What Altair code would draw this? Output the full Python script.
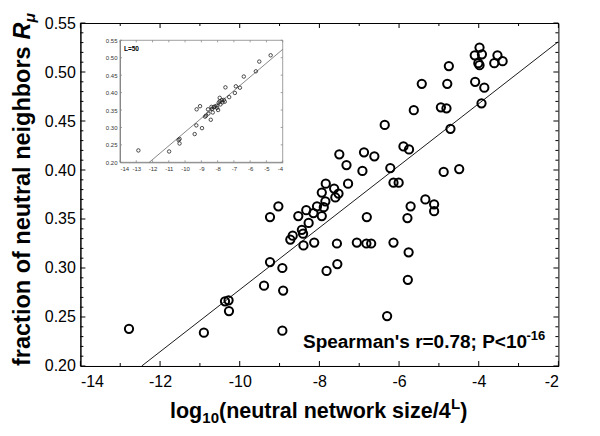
import altair as alt
import pandas as pd

# ---------------- data ----------------
MAIN_X = [-12.78, -10.90, -10.37, -10.28, -10.27, -9.39, -9.24, -8.93, -8.91, -8.93,
          -9.24, -9.03, -8.73, -8.67, -8.53, -8.44, -8.41, -8.40, -8.33, -8.27,
          -8.15, -8.13, -8.06, -7.94, -7.94, -7.89, -7.85, -7.84, -7.82, -7.63,
          -7.60, -7.56, -7.55, -7.52, -7.50, -7.32, -7.28, -7.06, -6.92, -6.88,
          -6.82, -6.81, -6.70, -6.62, -6.36, -6.30, -6.22, -6.14, -6.14, -6.01,
          -5.89, -5.79, -5.78, -5.76, -5.75, -5.71, -5.63, -5.43, -5.34, -5.12,
          -5.12, -4.95, -4.88, -4.81, -4.79, -4.75, -4.71, -4.49, -4.09, -4.10,
          -4.01, -3.98, -3.98, -3.92, -3.93, -3.86, -3.61, -3.53, -3.40]
MAIN_Y = [0.238, 0.234, 0.266, 0.267, 0.256, 0.282, 0.306, 0.300, 0.277, 0.236,
          0.352, 0.363, 0.329, 0.333, 0.353, 0.339, 0.335, 0.323, 0.359, 0.346,
          0.356, 0.326, 0.363, 0.353, 0.377, 0.362, 0.368, 0.386, 0.297, 0.381,
          0.372, 0.325, 0.304, 0.376, 0.416, 0.405, 0.386, 0.326, 0.399, 0.418,
          0.325, 0.352, 0.325, 0.414, 0.446, 0.251, 0.402, 0.387, 0.326, 0.387,
          0.424, 0.351, 0.288, 0.316, 0.421, 0.363, 0.461, 0.488, 0.370, 0.365,
          0.358, 0.464, 0.398, 0.463, 0.488, 0.506, 0.442, 0.401, 0.490, 0.517,
          0.509, 0.507, 0.525, 0.518, 0.468, 0.484, 0.509, 0.517, 0.511]

INSET_X = [-12.87, -10.98, -10.40, -10.34, -10.34, -9.41, -9.31, -8.96, -9.29, -9.08,
           -8.42, -8.77, -8.71, -8.57, -8.59, -8.38, -8.34, -8.30, -8.24, -8.18,
           -8.07, -8.03, -7.97, -7.93, -7.87, -7.83, -7.74, -7.70, -7.62, -7.56,
           -7.87, -7.29, -7.52, -6.94, -6.88, -6.63, -6.39, -5.65, -5.44, -4.74]
INSET_Y = [0.234, 0.231, 0.264, 0.267, 0.254, 0.281, 0.306, 0.298, 0.352, 0.361,
           0.322, 0.331, 0.334, 0.340, 0.352, 0.359, 0.353, 0.343, 0.358, 0.360,
           0.362, 0.356, 0.350, 0.371, 0.375, 0.366, 0.378, 0.372, 0.379, 0.374,
           0.385, 0.387, 0.415, 0.399, 0.418, 0.414, 0.446, 0.461, 0.489, 0.507]

MAIN_FIT_X = [-12.46, -2.0]
MAIN_FIT_Y = [0.200, 0.531]
INSET_FIT_X = [-12.2, -4.0]
INSET_FIT_Y = [0.200, 0.524]

X_MAJOR = [-14, -12, -10, -8, -6, -4, -2]
X_MINOR = [-13, -11, -9, -7, -5, -3]
Y_MAJOR = [0.20, 0.25, 0.30, 0.35, 0.40, 0.45, 0.50, 0.55]
Y_MINOR = [0.21, 0.22, 0.23, 0.24, 0.26, 0.27, 0.28, 0.29, 0.31, 0.32, 0.33, 0.34,
           0.36, 0.37, 0.38, 0.39, 0.41, 0.42, 0.43, 0.44, 0.46, 0.47, 0.48, 0.49,
           0.51, 0.52, 0.53, 0.54]
INSET_X_TICKS = [-14, -13, -12, -11, -10, -9, -8, -7, -6, -5, -4]

X_TITLE_PARTS = ["log", "10", "(neutral network size/4", "L", ")"]
Y_TITLE_PARTS = ["fraction of neutral neighbors", "R", "μ"]
NOTE_PARTS = ["Spearman's r=0.78; P<10", "-16"]
INSET_LABEL = "L=50"

# ---------------- layout ----------------
W, H = 478, 343
FONT = "Liberation Sans"

xs = alt.Scale(domain=[-14, -2], nice=False, zero=False)
ys = alt.Scale(domain=[0.20, 0.55], nice=False, zero=False)
ixs = alt.Scale(domain=[-14, -4], range=[39.6, 202.3], nice=False, zero=False)
iys = alt.Scale(domain=[0.20, 0.55], range=[139.3, 17.3], nice=False, zero=False)
IX0, IX1, IY0, IY1 = 39.6, 202.3, 139.3, 17.3


def text_layer(txt, x, y, size, bold=True, italic=False, angle=0, color="black"):
    return alt.Chart(pd.DataFrame({"t": [txt]})).mark_text(
        font=FONT, fontSize=size, fontWeight="bold" if bold else "normal",
        fontStyle="italic" if italic else "normal", align="left",
        baseline="alphabetic", angle=angle, color=color
    ).encode(x=alt.value(x), y=alt.value(y), text="t:N")


def hticks(vals, y0, y1, scale=xs, color="black", sw=1):
    return alt.Chart(pd.DataFrame({"v": vals})).mark_rule(color=color, strokeWidth=sw).encode(
        x=alt.X("v:Q", scale=scale, axis=None), y=alt.value(y0), y2=alt.value(y1))


def vticks(vals, x0, x1, scale=ys, color="black", sw=1):
    return alt.Chart(pd.DataFrame({"v": vals})).mark_rule(color=color, strokeWidth=sw).encode(
        y=alt.Y("v:Q", scale=scale, axis=None), x=alt.value(x0), x2=alt.value(x1))


main_df = pd.DataFrame({"x": MAIN_X, "y": MAIN_Y})
points = alt.Chart(main_df).mark_point(
    shape="circle", filled=False, color="black", size=68, strokeWidth=2, opacity=1
).encode(
    x=alt.X("x:Q", scale=xs, axis=alt.Axis(
        orient="bottom", values=X_MAJOR, labelExpr="'' + datum.value", title=None,
        tickSize=0, labelFontSize=16, labelColor="black", domainColor="black",
        labelPadding=8, grid=False)),
    y=alt.Y("y:Q", scale=ys, axis=alt.Axis(
        orient="left", values=Y_MAJOR, format=".2f", title=None, tickSize=0,
        labelFontSize=16, labelColor="black", domainColor="black",
        labelPadding=5, grid=False)),
)

fit = alt.Chart(pd.DataFrame({"x": MAIN_FIT_X, "y": MAIN_FIT_Y})).mark_line(
    color="black", strokeWidth=0.9, clip=True
).encode(x=alt.X("x:Q", scale=xs, axis=None), y=alt.Y("y:Q", scale=ys, axis=None))

ticks = [
    hticks(X_MAJOR, H, H - 5), hticks(X_MINOR, H, H - 3),
    hticks(X_MAJOR, 0, 5), hticks(X_MINOR, 0, 3),
    vticks(Y_MAJOR, 0, 5), vticks(Y_MINOR, 0, 3),
    vticks(Y_MAJOR, W, W - 5), vticks(Y_MINOR, W, W - 3),
]

# x title pieces (bold 21.5px, sub/sup 15px)
xt = [
    text_layer(X_TITLE_PARTS[0], 89.6, 395, 21.5),
    text_layer(X_TITLE_PARTS[1], 121.9, 400, 15),
    text_layer(X_TITLE_PARTS[2], 138.6, 395, 21.5),
    text_layer(X_TITLE_PARTS[3], 370.6, 386, 15),
    text_layer(X_TITLE_PARTS[4], 379.8, 395, 21.5),
]
# y title pieces rotated (23.5px)
Y0 = 343.0
w_main = 13891 * 0.0235
w_R = 722 * 0.0235
yt = [
    text_layer(Y_TITLE_PARTS[0], -50.4, Y0, 23.5, angle=270),
    text_layer(Y_TITLE_PARTS[1], -50.4, Y0 - w_main, 23.5, italic=True, angle=270),
    text_layer(Y_TITLE_PARTS[2], -45.2, Y0 - w_main - w_R, 15.5, italic=True, angle=270),
]
note = [
    text_layer(NOTE_PARTS[0], 222.6, 325, 19),
    text_layer(NOTE_PARTS[1], 446.0, 317, 13),
]

# ---------------- inset ----------------
inset_df = pd.DataFrame({"x": INSET_X, "y": INSET_Y})
inset_pts = alt.Chart(inset_df).mark_point(
    shape="circle", filled=False, color="#222", size=12, strokeWidth=0.8, opacity=1
).encode(
    x=alt.X("x:Q", scale=ixs, axis=alt.Axis(
        orient="bottom", offset=IY0 - H, values=INSET_X_TICKS,
        labelExpr="'' + datum.value", title=None, tickSize=0, labelFontSize=6,
        labelColor="#333", domainColor="#888", labelPadding=3, grid=False)),
    y=alt.Y("y:Q", scale=iys, axis=alt.Axis(
        orient="left", offset=-IX0, values=Y_MAJOR, format=".2f", title=None,
        tickSize=0, labelFontSize=6, labelColor="#333", domainColor="#888",
        labelPadding=3, grid=False)),
)
inset_frame = alt.Chart(pd.DataFrame({"x": [-14], "x2": [-4], "y": [0.20], "y2": [0.55]})).mark_rect(
    fillOpacity=0, stroke="#888", strokeWidth=0.8
).encode(x=alt.X("x:Q", scale=ixs, axis=None), x2="x2:Q",
         y=alt.Y("y:Q", scale=iys, axis=None), y2="y2:Q")
inset_fit = alt.Chart(pd.DataFrame({"x": INSET_FIT_X, "y": INSET_FIT_Y})).mark_line(
    color="#555", strokeWidth=0.7
).encode(x=alt.X("x:Q", scale=ixs, axis=None), y=alt.Y("y:Q", scale=iys, axis=None))
inset_ticks = [
    hticks(INSET_X_TICKS, IY0, IY0 - 2, scale=ixs, color="#888", sw=0.8),
    hticks(INSET_X_TICKS, IY1, IY1 + 2, scale=ixs, color="#888", sw=0.8),
    vticks(Y_MAJOR, IX0, IX0 + 2, scale=iys, color="#888", sw=0.8),
    vticks(Y_MAJOR, IX1, IX1 - 2, scale=iys, color="#888", sw=0.8),
]
inset_lbl = text_layer(INSET_LABEL, 43.6, 28, 6.5)

chart = alt.layer(
    points, fit, *ticks, inset_frame, *inset_ticks, inset_fit, inset_pts, inset_lbl,
    *xt, *yt, *note
).resolve_scale(
    x="independent", y="independent"
).properties(
    width=W, height=H,
    autosize=alt.AutoSizeParams(type="none"),
    padding={"left": 72.4, "top": 15, "right": 20, "bottom": 60},
).configure_view(stroke="black", strokeWidth=1).configure_axis(labelFont=FONT)

chart.save("out.html", embed_options={"renderer": "svg", "actions": False})
